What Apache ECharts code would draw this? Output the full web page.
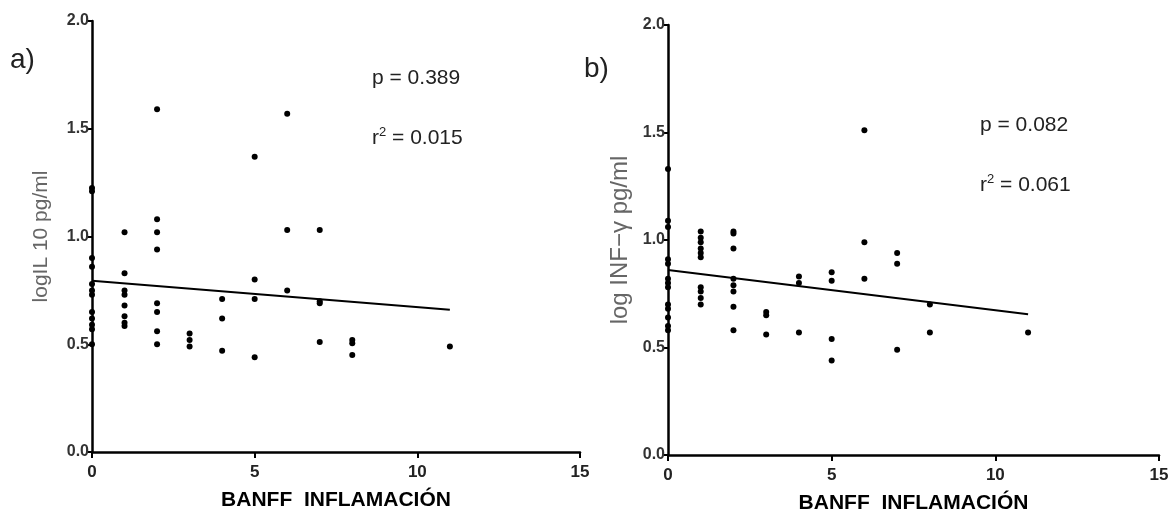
<!DOCTYPE html>
<html>
<head>
<meta charset="utf-8">
<title>BANFF inflamación</title>
<script src="https://cdn.jsdelivr.net/npm/echarts@6/dist/echarts.min.js"></script>
<style>
	html, body { margin: 0; padding: 0; background: #fff; }
	#main { width: 1172px; height: 519px; }
</style>
</head>
<body>
<div id="main"></div>
<script>
	/* a) IL-10 数据 */
	var il10X = [0,0,0,0,0,0,0,0,0,0,0,0,
		1,1,1,1,1,1,1,1,
		2,2,2,2,2,2,2,2,
		3,3,3, 4,4,4, 5,5,5,5, 6,6,6, 7,7,7,7, 8,8,8, 11];
	var il10Y = [1.225,1.21,0.90,0.86,0.78,0.75,0.73,0.65,0.62,0.59,0.57,0.50,
		1.02,0.83,0.75,0.73,0.68,0.63,0.60,0.585,
		1.59,1.08,1.02,0.94,0.69,0.65,0.56,0.50,
		0.55,0.52,0.49, 0.71,0.62,0.47, 1.37,0.80,0.71,0.44, 1.57,1.03,0.75, 1.03,0.70,0.69,0.51, 0.52,0.505,0.45, 0.49];
	var il10FitX = [0, 11];
	var il10FitY = [0.795, 0.66];

	/* b) INF-γ 数据 */
	var infX = [0,0,0,0,0,0,0,0,0,0,0,0,0,
		1,1,1,1,1,1,1,1,1,1,
		2,2,2,2,2,2,2,2,
		3,3,3, 4,4,4, 5,5,5,5, 6,6,6, 7,7,7, 8,8, 11];
	var infY = [1.33,1.09,1.06,0.91,0.89,0.82,0.80,0.78,0.70,0.68,0.64,0.60,0.58,
		1.04,1.01,0.99,0.96,0.94,0.92,0.78,0.76,0.73,0.70,
		1.04,1.03,0.96,0.82,0.79,0.76,0.69,0.58,
		0.665,0.65,0.56, 0.83,0.80,0.57, 0.85,0.81,0.54,0.44, 1.51,0.99,0.82, 0.94,0.89,0.49, 0.70,0.57, 0.57];
	var infFitX = [0, 11];
	var infFitY = [0.86, 0.655];

	var xTicks = [0, 5, 10, 15];
	var yTicks = [0, 0.5, 1.0, 1.5, 2.0];
	var xName = 'BANFF  INFLAMACIÓN';
	var yNames = ['logIL 10 pg/ml', 'log INF\u2212\u03b3 pg/ml'];
	var stats = [['0.389', '0.015'], ['0.082', '0.061']];

	function pairs(xs, ys) {
		var out = [];
		for (var i = 0; i < xs.length; i++) {
			out.push([xs[i], ys[i]]);
		}
		return out;
	}

	var FONT = 'Liberation Sans, Arial, sans-serif';

	function makeX(idx) {
		return {
			type: 'value', gridIndex: idx,
			min: xTicks[0], max: xTicks[xTicks.length - 1], interval: 5,
			name: xName, nameLocation: 'middle', nameGap: 38,
			nameTextStyle: { fontFamily: FONT, fontWeight: 'bold', fontSize: 21, color: '#000' },
			axisLine: { show: true, onZero: false, lineStyle: { color: '#000', width: 2.5 } },
			axisTick: { show: true, length: 6, lineStyle: { color: '#000', width: 2 } },
			axisLabel: { fontFamily: FONT, fontWeight: 'bold', fontSize: 17, color: '#222', margin: 12 },
			splitLine: { show: false }
		};
	}

	function makeY(idx) {
		return {
			type: 'value', gridIndex: idx,
			min: yTicks[0], max: yTicks[yTicks.length - 1], interval: 0.5,
			name: yNames[idx], nameLocation: 'middle', nameGap: idx === 0 ? 40 : 36, nameRotate: 90,
			nameTextStyle: { fontFamily: FONT, fontSize: idx === 0 ? 21 : 24, color: '#666' },
			axisLine: { show: true, onZero: false, lineStyle: { color: '#000', width: 2.5 } },
			axisTick: { show: true, length: 5, lineStyle: { color: '#000', width: 2 } },
			axisLabel: {
				fontFamily: FONT, fontWeight: 'bold', fontSize: 16, color: '#333', margin: 3,
				formatter: function(v){ return v.toFixed(1); }
			},
			splitLine: { show: false }
		};
	}

	function statText(idx, left, top) {
		return [
			{
				type: 'text', left: left, top: top,
				style: { text: 'p = ' + stats[idx][0], font: '21px ' + FONT, fill: '#222' }
			},
			{
				type: 'text', left: left, top: top + 58,
				style: {
					text: '{b|r}{s|2}{b| = ' + stats[idx][1] + '}',
					rich: {
						b: { fontFamily: FONT, fontSize: 21, fill: '#222', verticalAlign: 'bottom' },
						s: { fontFamily: FONT, fontSize: 13, fill: '#222', verticalAlign: 'top', padding: [0, 0, 10, 0] }
					}
				}
			}
		];
	}

	var myChart = echarts.init(document.getElementById('main'));
	var option = {
		backgroundColor: '#fff',
		animation: false,
		grid: [
			{ left: 92, right: 592, top: 21, bottom: 67 },
			{ left: 668, right: 13, top: 25, bottom: 64 }
		],
		xAxis: [makeX(0), makeX(1)],
		yAxis: [makeY(0), makeY(1)],
		series: [
			{
				type: 'scatter', xAxisIndex: 0, yAxisIndex: 0,
				symbolSize: 6, itemStyle: { color: '#000', opacity: 1 },
				data: pairs(il10X, il10Y)
			},
			{
				type: 'line', xAxisIndex: 0, yAxisIndex: 0,
				symbol: 'none', lineStyle: { color: '#000', width: 2 },
				data: pairs(il10FitX, il10FitY)
			},
			{
				type: 'scatter', xAxisIndex: 1, yAxisIndex: 1,
				symbolSize: 6, itemStyle: { color: '#000', opacity: 1 },
				data: pairs(infX, infY)
			},
			{
				type: 'line', xAxisIndex: 1, yAxisIndex: 1,
				symbol: 'none', lineStyle: { color: '#000', width: 2 },
				data: pairs(infFitX, infFitY)
			}
		],
		graphic: [
			{ type: 'text', left: 10, top: 46, style: { text: 'a)', font: '28px ' + FONT, fill: '#222' } },
			{ type: 'text', left: 584, top: 55, style: { text: 'b)', font: '28px ' + FONT, fill: '#222' } }
		].concat(statText(0, 372, 68)).concat(statText(1, 980, 115))
	};
	myChart.setOption(option);
</script>
</body>
</html>
